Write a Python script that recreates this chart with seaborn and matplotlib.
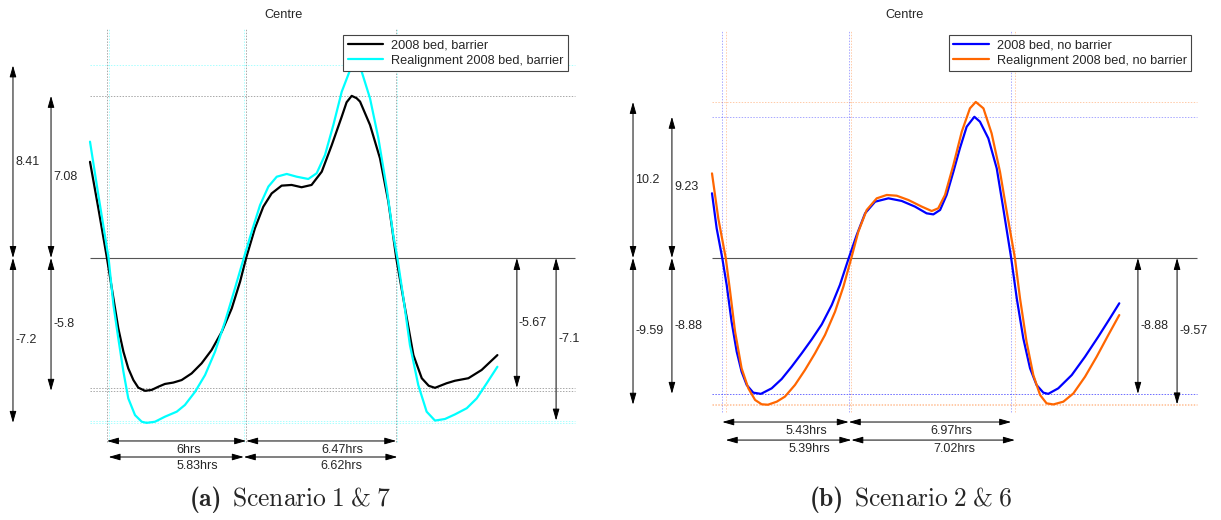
import matplotlib
matplotlib.use("Agg")
import matplotlib.pyplot as plt
import seaborn as sns

# ---------------- Scenario 1 & 7 : with barrier ----------------
# time (hours) and water level (m) at the estuary centre
bed_barrier_t = [0.0, 0.36, 0.73, 1.01, 1.22, 1.44, 1.65, 1.87, 2.08, 2.37, 2.66, 2.95,
                 3.23, 3.59, 3.95, 4.38, 4.81, 5.24, 5.68, 6.11, 6.47, 6.73, 7.11, 7.47,
                 7.83, 8.26, 8.69, 9.12, 9.55, 9.99, 10.42, 10.85, 11.06, 11.28, 11.49,
                 11.64, 12.07, 12.50, 12.86, 13.20, 13.58, 13.94, 14.30, 14.60, 14.87,
                 15.37, 15.73, 16.31, 16.88, 17.56]
bed_barrier_h = [4.20, 2.17, 0.0, -1.76, -3.07, -4.09, -4.82, -5.33, -5.66, -5.80, -5.76, -5.62,
                 -5.50, -5.44, -5.33, -5.04, -4.60, -4.02, -3.22, -2.20, -1.03, 0.0, 1.30, 2.24,
                 2.82, 3.16, 3.19, 3.09, 3.19, 3.77, 4.93, 6.17, 6.80, 7.08, 6.98,
                 6.83, 5.81, 4.35, 2.46, 0.0, -2.20, -4.24, -5.25, -5.58, -5.67,
                 -5.47, -5.36, -5.25, -4.89, -4.24]
bed_barrier_slack = [0.73, 6.73, 13.20]

realign_barrier_t = [0.0, 0.36, 0.80, 1.01, 1.22, 1.44, 1.65, 1.94, 2.23, 2.44, 2.80, 3.23,
                     3.74, 4.09, 4.53, 4.96, 5.39, 5.82, 6.25, 6.63, 6.97, 7.33, 7.69, 8.05,
                     8.48, 8.91, 9.41, 9.77, 10.13, 10.49, 10.85, 11.21, 11.42, 11.71, 12.07,
                     12.43, 12.79, 13.07, 13.25, 13.51, 13.79, 14.15, 14.51, 14.87, 15.30,
                     15.73, 16.24, 16.67, 17.10, 17.56]
realign_barrier_h = [5.08, 2.75, 0.0, -2.05, -3.51, -4.96, -6.13, -6.86, -7.15, -7.20, -7.15, -6.93,
                     -6.71, -6.42, -5.84, -5.11, -4.09, -2.78, -1.32, 0.0, 1.15, 2.31, 3.12, 3.55,
                     3.67, 3.55, 3.45, 3.70, 4.50, 5.81, 7.26, 8.21, 8.41, 8.14, 6.97,
                     5.23, 3.04, 1.00, 0.0, -1.76, -3.80, -5.55, -6.71, -7.10, -7.03,
                     -6.83, -6.56, -6.13, -5.47, -4.75]
realign_barrier_slack = [0.80, 6.63, 13.25]

# ---------------- Scenario 2 & 6 : no barrier ----------------
bed_open_t = [0.0, 0.20, 0.44, 0.63, 0.84, 1.06, 1.27, 1.49, 1.77, 2.10, 2.56, 2.99,
              3.42, 3.85, 4.28, 4.71, 5.14, 5.49, 5.87, 6.21, 6.57, 7.00, 7.57, 8.14,
              8.71, 9.21, 9.50, 9.79, 10.07, 10.36, 10.64, 10.93, 11.26, 11.50, 11.86,
              12.22, 12.50, 12.84, 13.08, 13.36, 13.65, 13.93, 14.22, 14.43, 14.86,
              15.44, 16.01, 16.58, 17.08, 17.48]
bed_open_h = [4.23, 1.94, 0.0, -1.76, -4.16, -6.12, -7.43, -8.30, -8.80, -8.88, -8.52, -7.91,
              -7.10, -6.23, -5.32, -4.34, -3.07, -1.76, 0.0, 1.50, 2.92, 3.68, 3.90, 3.73,
              3.36, 2.92, 2.85, 3.14, 4.12, 5.64, 7.17, 8.58, 9.23, 8.91, 7.82,
              5.86, 3.25, 0.0, -2.64, -5.25, -7.21, -8.30, -8.80, -8.88, -8.52,
              -7.65, -6.45, -5.14, -3.94, -2.96]
bed_open_slack = [0.44, 5.87, 12.84]

realign_open_t = [0.0, 0.27, 0.59, 0.77, 0.99, 1.27, 1.56, 1.85, 2.13, 2.40, 2.78, 3.13,
                  3.56, 3.99, 4.42, 4.85, 5.28, 5.64, 5.98, 6.28, 6.64, 7.07, 7.50, 7.93,
                  8.43, 9.00, 9.43, 9.71, 10.00, 10.36, 10.72, 11.07, 11.32, 11.65, 12.00,
                  12.36, 12.65, 13.00, 13.22, 13.50, 13.79, 14.08, 14.36, 14.65, 15.08,
                  15.51, 16.01, 16.51, 17.01, 17.48]
realign_open_h = [5.53, 2.59, 0.0, -2.10, -4.81, -7.21, -8.52, -9.28, -9.56, -9.59, -9.39, -9.06,
                  -8.30, -7.32, -6.23, -5.03, -3.51, -1.87, 0.0, 1.72, 3.14, 3.90, 4.12, 4.07,
                  3.79, 3.36, 3.07, 3.25, 4.12, 6.08, 8.26, 9.78, 10.20, 9.78, 8.15,
                  5.64, 3.03, 0.0, -2.64, -5.47, -7.65, -8.95, -9.50, -9.57, -9.39,
                  -8.85, -7.76, -6.45, -5.03, -3.73]
realign_open_slack = [0.59, 5.98, 13.00]

labels_a = ["2008 bed, barrier", "Realignment 2008 bed, barrier"]
labels_b = ["2008 bed, no barrier", "Realignment 2008 bed, no barrier"]
colors_a = ["#000000", "#00FFFF"]
colors_b = ["#0000FF", "#FF6600"]
title_text = "Centre"
caption_tags = ["(a)", "(b)"]
caption_texts = [r"$\mathrm{Scenario}\;1\;&\;7$", r"$\mathrm{Scenario}\;2\;&\;6$"]

W, H = 1221, 520

sns.set_style("white")
plt.rcParams["font.family"] = ["Liberation Sans", "DejaVu Sans"]
plt.rcParams["mathtext.fontset"] = "cm"

fig = plt.figure(figsize=(W / 100, H / 100), dpi=100)

ARROW = dict(arrowstyle="<|-|>,head_length=0.7,head_width=0.2", mutation_scale=10,
             color="black", lw=0.7, shrinkA=0, shrinkB=0)


def fmt(v):
    return f"{v:.3g}"


def make_axes(box, origin, px_hr, px_m):
    """box = (left, top, right, bottom) in pixels; origin = pixel of t=0, h=0."""
    l, t, r, b = box
    ax = fig.add_axes([l / W, 1 - b / H, (r - l) / W, (b - t) / H])
    ax.set_xlim((l - origin[0]) / px_hr, (r - origin[0]) / px_hr)
    ax.set_ylim((origin[1] - b) / px_m, (origin[1] - t) / px_m)
    return ax


def draw_panel(ax, series, colors, labels, lay):
    x_end = lay["x_end"]
    ax.hlines(0, 0, x_end, color="#555555", lw=0.8, zorder=1)

    stats = []
    for (t, h, slack), c in zip(series, colors):
        first = min(v for tt, v in zip(t, h) if tt < slack[1])
        second = min(v for tt, v in zip(t, h) if tt > slack[2])
        peak = max(h)
        stats.append((peak, first, second))
        ax.hlines([peak, first, second], 0, x_end, colors=c, alpha=0.34,
                  linestyles=(0, (1.5, 1.5)), lw=0.7, zorder=1)
        ax.vlines(slack, lay["v_bot"], lay["v_top"], colors=c, alpha=0.34,
                  linestyles=(0, (1.5, 1.5)), lw=0.7, zorder=1)

    for (t, h, slack), c, lab in zip(series, colors, labels):
        sns.lineplot(x=t, y=h, ax=ax, color=c, lw=1.6, label=lab,
                     sort=False, estimator=None, zorder=3)
    for ln in ax.get_lines():
        ln.set_solid_joinstyle("round")

    # vertical range arrows: outer = second series, inner = first series
    xl_out, xl_in, xr_in, xr_out = lay["arrow_x"]
    for (peak, first, second), xl, xr in zip(stats, (xl_in, xl_out), (xr_in, xr_out)):
        for x, y in ((xl, peak), (xl, first), (xr, second)):
            ax.annotate("", xy=(x, y), xytext=(x, 0), arrowprops=ARROW)
            ax.annotate(fmt(y), xy=(x, y / 2), xytext=(1.5, 0), textcoords="offset points",
                        ha="left", va="center", fontsize=9)

    # slack-to-slack durations
    for (t, h, slack), row in zip(series, lay["rows"]):
        for a, b in ((slack[0], slack[1]), (slack[1], slack[2])):
            ax.annotate("", xy=(b, row), xytext=(a, row), arrowprops=ARROW)
            ax.annotate(f"{fmt(b - a)}hrs", xy=((a + b) / 2, row), xytext=(0, -2),
                        textcoords="offset points", ha="left", va="top", fontsize=9)

    leg = ax.legend(loc="upper right", bbox_to_anchor=(lay["legend"][0] / W, 1 - lay["legend"][1] / H),
                    bbox_transform=fig.transFigure, frameon=True, fancybox=False,
                    edgecolor="#444444", framealpha=1, borderaxespad=0, fontsize=9.2,
                    handlelength=2.8, handletextpad=0.6, labelspacing=0.25, borderpad=0.35)
    leg.get_frame().set_linewidth(0.8)
    ax.set_axis_off()


ax_a = make_axes((0, 0, 600, 480), (90, 258), 23.2, 22.9)
draw_panel(ax_a,
           [(bed_barrier_t, bed_barrier_h, bed_barrier_slack),
            (realign_barrier_t, realign_barrier_h, realign_barrier_slack)],
           colors_a, labels_a,
           dict(x_end=20.9, v_top=10.04, v_bot=-8.03, rows=(-7.99, -8.69),
                arrow_x=(-3.32, -1.68, 18.4, 20.09), legend=(568, 35)))

ax_b = make_axes((612, 0, 1221, 480), (712, 258), 23.3, 15.3)
draw_panel(ax_b,
           [(bed_open_t, bed_open_h, bed_open_slack),
            (realign_open_t, realign_open_h, realign_open_slack)],
           colors_b, labels_b,
           dict(x_end=20.8, v_top=14.9, v_bot=-10.07, rows=(-10.72, -11.9),
                arrow_x=(-3.39, -1.72, 18.28, 19.96), legend=(1191, 35)))

fig.text(284 / W, 1 - 15 / H, title_text, ha="center", va="center", fontsize=9.2)
fig.text(905 / W, 1 - 15 / H, title_text, ha="center", va="center", fontsize=9.2)

# sub-figure captions: bold tag followed by roman text on a common baseline
renderer = fig.canvas.get_renderer()
for x_px, tag, text in zip((190, 810), caption_tags, caption_texts):
    t_tag = fig.text(x_px / W, 1 - 506 / H, tag, ha="left", va="baseline",
                     fontsize=18.5, fontfamily="cmb10")
    x_end_px = t_tag.get_window_extent(renderer).x1
    fig.text((x_end_px + 10) / W, 1 - 506 / H, text, ha="left", va="baseline", fontsize=18.4)

fig.savefig("out.png", dpi=100)
